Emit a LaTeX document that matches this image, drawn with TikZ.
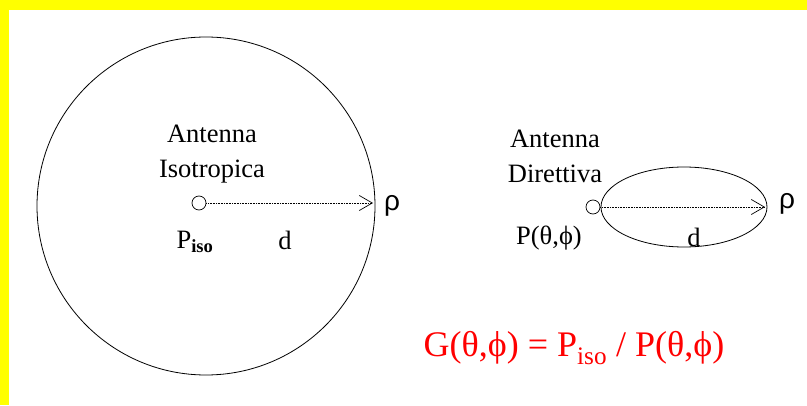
\documentclass[tikz,border=0pt]{standalone}
\usepackage{fontspec}
\setmainfont{Liberation Serif}
\newfontfamily\rhofont{Liberation Sans}
\usepackage{xcolor}
\usetikzlibrary{arrows.meta,shapes.geometric,positioning}
\definecolor{bandyellow}{HTML}{FFFF00}

\begin{document}
\begin{tikzpicture}[x=1pt,y=1pt,
  lbl/.style={inner sep=0pt, font=\fontsize{26.5}{35}\selectfont, align=center},
  rho/.style={inner sep=0pt, font=\fontsize{28}{30}\selectfont\rhofont},
  feed/.style={draw, circle, minimum size=14pt, inner sep=0pt, line width=0.7pt},
  arr/.style={densely dotted, line width=0.6pt, -{Straight Barb[length=13pt,width=15pt,line width=0.7pt]}},
]
  \fill[white] (0,0) rectangle (807,405);
  \fill[bandyellow] (0,395) rectangle (807,405);
  \fill[bandyellow] (0,0) rectangle (9,405);

  % isotropic antenna
  \node[draw, circle, minimum size=338pt, inner sep=0pt, line width=0.8pt] (sphere) at (206,199) {};
  \node[feed] (iso) at (199,202) {};
  \coordinate (isotip) at (373,202);
  \draw[arr] (iso) -- (isotip);
  \node[lbl] (isoname) at (212,251) {Antenna\\Isotropica};
  \node[lbl] (isopow) at (195,163) {P\textsubscript{\textbf{iso}}};
  \node[lbl] (isod) at (285,165) {d};
  \node[rho] (isorho) at (392,199) {ρ};

  % directive antenna
  \node[draw, ellipse, minimum width=166pt, minimum height=80pt, inner sep=0pt, line width=0.8pt] (lobe) at (684,198) {};
  \node[feed] (dir) at (593,198) {};
  \coordinate (dirtip) at (765,198);
  \draw[arr] (dir) -- (dirtip);
  \node[lbl] (dirname) at (555,249) {Antenna\\Direttiva};
  \node[lbl] (dirpow) at (549,167) {P(θ,ϕ)};
  \node[lbl] (dird) at (694,168) {d};
  \node[rho] (dirrho) at (787,201) {ρ};

  % gain
  \node[lbl, text=red, font=\fontsize{36}{40}\selectfont] (gain) at (574,57) {G(θ,ϕ) = P\textsubscript{iso} / P(θ,ϕ)};
\end{tikzpicture}
\end{document}
